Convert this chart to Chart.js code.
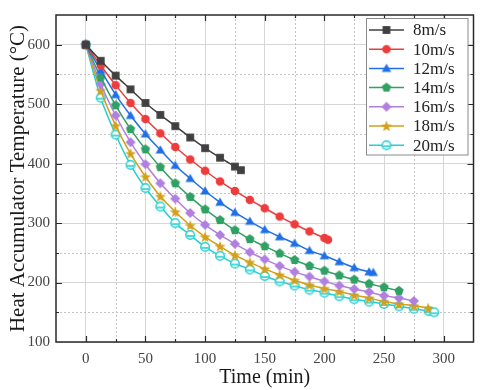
<!DOCTYPE html>
<html>
<head>
<meta charset="utf-8">
<script src="https://cdn.jsdelivr.net/npm/chart.js@4.4.1/dist/chart.umd.min.js"></script>
<style>
  html, body { margin: 0; padding: 0; background: #fff; }
  #wrap { width: 480px; height: 390px; }
</style>
</head>
<body>
<div id="wrap"><canvas id="chart" width="480" height="390"></canvas></div>
<script>
// sampling times (min), every 12.5 min
const timeSteps = [0, 12.5, 25, 37.5, 50, 62.5, 75, 87.5, 100, 112.5, 125, 137.5, 150,
  162.5, 175, 187.5, 200, 212.5, 225, 237.5, 250, 262.5, 275, 287.5];

const seriesLabels = ['8m/s', '10m/s', '12m/s', '14m/s', '16m/s', '18m/s', '20m/s'];
const seriesColors = ['#404040', '#ee3b3b', '#1f6fe6', '#30a064', '#b07fe0', '#d3a01c', '#22cfd2'];

// temperatures (°C)
const temp8 = [600, 573, 548, 525, 502, 482, 463, 444, 426, 410, 395, 389];
const temp10 = [600, 565, 532, 502, 475, 451, 428, 407, 388, 370, 354, 339, 325, 311, 298, 286, 275, 272];
const temp12 = [600, 557, 516, 481, 450, 423, 397, 375, 354, 335, 318, 303, 289, 277, 266, 254, 245, 235, 225, 218, 217];
const temp14 = [600, 545, 498, 458, 424, 394, 367, 344, 323, 305, 288, 273, 261, 249, 238, 228, 220, 212, 205, 198, 192, 186];
const temp16 = [600, 534, 481, 436, 399, 367, 341, 317, 297, 280, 265, 251, 239, 228, 218, 210, 202, 195, 189, 184, 178, 174, 169];
const temp18 = [600, 523, 464, 417, 378, 345, 319, 296, 277, 261, 246, 234, 223, 213, 204, 196, 190, 185, 179, 174, 168, 164, 161, 157];
const temp20 = [600, 511, 449, 398, 359, 328, 300, 280, 260, 245, 232, 222, 211, 202, 195, 188, 183, 177, 172, 168, 164, 160, 156, 152, 150];

// time of the last sample where it falls off the 12.5 min grid
const times8 = timeSteps.slice(0, 11).concat([130]);
const times10 = timeSteps.slice(0, 17).concat([203]);
const times12 = timeSteps.slice(0, 20).concat([241]);
const times14 = timeSteps.slice(0, 22);
const times16 = timeSteps.slice(0, 23);
const times18 = timeSteps.slice(0, 23).concat([287]);
const times20 = timeSteps.slice(0, 24).concat([292]);

const allTemps = [temp8, temp10, temp12, temp14, temp16, temp18, temp20];
const allTimes = [times8, times10, times12, times14, times16, times18, times20];
const markerShapes = ['square', 'circle', 'triangle', 'pentagon', 'diamond', 'star', 'hollow'];

const xTicks = [0, 50, 100, 150, 200, 250, 300];
const yTicks = [100, 200, 300, 400, 500, 600];

const serif = '"Liberation Serif", "Times New Roman", "DejaVu Serif", serif';

function makeMarker(shape, color) {
  const c = document.createElement('canvas');
  c.width = 14; c.height = 14;
  const g = c.getContext('2d');
  const cx = 7, cy = 7;
  g.fillStyle = color;
  g.strokeStyle = color;
  g.lineWidth = 1.5;
  g.beginPath();
  if (shape === 'square') {
    g.rect(cx - 3.9, cy - 3.9, 7.8, 7.8);
    g.fill();
  } else if (shape === 'circle') {
    g.arc(cx, cy, 4.3, 0, Math.PI * 2);
    g.fill();
  } else if (shape === 'triangle') {
    const r = 5.5;
    for (let k = 0; k < 3; k++) {
      const a = -Math.PI / 2 + k * 2 * Math.PI / 3;
      g.lineTo(cx + r * Math.cos(a), cy + 0.8 + r * Math.sin(a));
    }
    g.closePath();
    g.fill();
  } else if (shape === 'pentagon') {
    const r = 4.9;
    for (let k = 0; k < 5; k++) {
      const a = -Math.PI / 2 + k * 2 * Math.PI / 5;
      g.lineTo(cx + r * Math.cos(a), cy + r * Math.sin(a));
    }
    g.closePath();
    g.fill();
  } else if (shape === 'diamond') {
    g.moveTo(cx, cy - 5.1); g.lineTo(cx + 5.1, cy); g.lineTo(cx, cy + 5.1); g.lineTo(cx - 5.1, cy);
    g.closePath();
    g.fill();
  } else if (shape === 'star') {
    for (let k = 0; k < 10; k++) {
      const r = k % 2 ? 2.4 : 5.9;
      const a = -Math.PI / 2 + k * Math.PI / 5;
      g.lineTo(cx + r * Math.cos(a), cy + 0.5 + r * Math.sin(a));
    }
    g.closePath();
    g.fill();
  } else {
    g.arc(cx, cy, 4.3, 0, Math.PI * 2);
    g.fillStyle = '#fff';
    g.fill();
    g.stroke();
    g.beginPath();
    g.fillStyle = color;
    g.rect(cx - 3.5, cy + 0.2, 7, 1.6);
    g.fill();
  }
  return c;
}

const markers = seriesColors.map((col, i) => makeMarker(markerShapes[i], col));

const datasets = seriesLabels.map((label, i) => ({
  label: label,
  data: allTimes[i].map((t, j) => ({ x: t, y: allTemps[i][j] })),
  borderColor: seriesColors[i],
  backgroundColor: seriesColors[i],
  borderWidth: 1.5,
  pointStyle: markers[i],
  pointRadius: 5,
  cubicInterpolationMode: 'monotone',
  fill: false
}));

const framePlugin = {
  id: 'frame',
  beforeDatasetsDraw(chart) {
    const { ctx, chartArea: a, scales: { x, y } } = chart;
    ctx.save();
    ctx.strokeStyle = '#c4c4c4';
    ctx.lineWidth = 1;
    ctx.setLineDash([2, 2]);
    for (let v = 25; v < 325; v += 50) {
      const px = Math.round(x.getPixelForValue(v)) + 0.5;
      ctx.beginPath(); ctx.moveTo(px, a.top); ctx.lineTo(px, a.bottom); ctx.stroke();
    }
    for (let v = 150; v < 650; v += 100) {
      const py = Math.round(y.getPixelForValue(v)) + 0.5;
      ctx.beginPath(); ctx.moveTo(a.left, py); ctx.lineTo(a.right, py); ctx.stroke();
    }
    ctx.restore();
  },
  afterDraw(chart) {
    const { ctx, chartArea: a, scales: { x, y } } = chart;
    ctx.save();
    ctx.strokeStyle = '#2a2a2a';
    ctx.lineWidth = 1.5;
    ctx.strokeRect(a.left, a.top, a.right - a.left, a.bottom - a.top);
    ctx.lineWidth = 1.2;
    for (let v = 0; v < 325; v += 25) {
      const px = Math.round(x.getPixelForValue(v)) + 0.5;
      const len = v % 50 ? 3 : 6;
      ctx.beginPath();
      ctx.moveTo(px, a.bottom); ctx.lineTo(px, a.bottom - len);
      ctx.moveTo(px, a.top); ctx.lineTo(px, a.top + len);
      ctx.stroke();
    }
    for (let v = 150; v < 650; v += 50) {
      const py = Math.round(y.getPixelForValue(v)) + 0.5;
      const len = v % 100 ? 3 : 6;
      ctx.beginPath();
      ctx.moveTo(a.left, py); ctx.lineTo(a.left + len, py);
      ctx.moveTo(a.right, py); ctx.lineTo(a.right - len, py);
      ctx.stroke();
    }

    // legend box
    const bx = 366.5, by = 18.5, bw = 101.5, bh = 136.5;
    ctx.fillStyle = '#fff';
    ctx.fillRect(bx, by, bw, bh);
    ctx.strokeStyle = '#8a8a8a';
    ctx.lineWidth = 1;
    ctx.strokeRect(bx, by, bw, bh);
    ctx.font = '17px ' + serif;
    ctx.textBaseline = 'middle';
    ctx.textAlign = 'left';
    chart.data.datasets.forEach((ds, i) => {
      const ry = 30 + i * 19.2;
      ctx.strokeStyle = ds.borderColor;
      ctx.lineWidth = 1.5;
      ctx.beginPath(); ctx.moveTo(369, ry); ctx.lineTo(404, ry); ctx.stroke();
      const m = ds.pointStyle;
      ctx.drawImage(m, 386.5 - m.width / 2, ry - m.height / 2);
      ctx.fillStyle = '#222';
      ctx.fillText(ds.label, 413, ry + 1);
    });
    ctx.restore();
  }
};

new Chart(document.getElementById('chart'), {
  type: 'line',
  data: { datasets: datasets },
  plugins: [framePlugin],
  options: {
    responsive: false,
    animation: false,
    events: [],
    layout: { padding: { top: 5, right: 6, left: 0, bottom: 0 } },
    plugins: { legend: { display: false }, tooltip: { enabled: false } },
    scales: {
      x: {
        type: 'linear',
        min: -25,
        max: 325,
        afterBuildTicks: s => { s.ticks = xTicks.map(v => ({ value: v })); },
        afterFit: s => { s.height = 48; },
        grid: { color: '#d6d6d6', drawTicks: false },
        border: { display: false },
        ticks: { padding: 8, color: '#444', font: { family: serif, size: 15 } },
        title: { display: true, text: 'Time (min)', color: '#1a1a1a',
          font: { family: serif, size: 20 }, padding: { top: 0, bottom: 0 } }
      },
      y: {
        min: 100,
        max: 650,
        afterBuildTicks: s => { s.ticks = yTicks.map(v => ({ value: v })); },
        afterFit: s => { s.width = 56; },
        grid: { color: '#d6d6d6', drawTicks: false },
        border: { display: false },
        ticks: { padding: 6, color: '#444', font: { family: serif, size: 15 } },
        title: { display: true, text: 'Heat Accumulator Temperature (°C)', color: '#1a1a1a',
          font: { family: serif, size: 21 }, padding: { top: 6, bottom: 0 } }
      }
    }
  }
});
</script>
</body>
</html>
